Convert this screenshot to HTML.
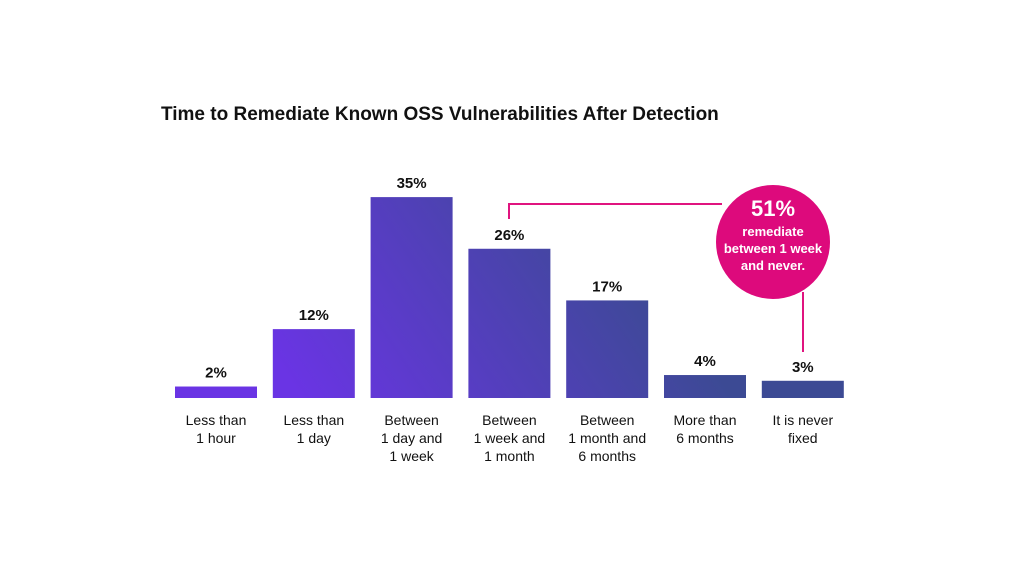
<!DOCTYPE html>
<html><head><meta charset="utf-8"><style>
html,body{margin:0;padding:0;background:#fff;}
svg text{font-family:"Liberation Sans",sans-serif;}
</style></head><body>
<svg id="chart" width="1024" height="576" viewBox="0 0 1024 576">
<defs>
<linearGradient id="barGrad" gradientUnits="userSpaceOnUse" x1="300" y1="398" x2="600" y2="197">
<stop offset="0" stop-color="#6a34e4"/><stop offset="1" stop-color="#3c4a94"/>
</linearGradient>
</defs>
<text x="161" y="120" font-size="19" font-weight="bold" fill="#111">Time to Remediate Known OSS Vulnerabilities After Detection</text>
<g id="bars"></g>
<path d="M509 219 V204 H722" fill="none" stroke="#e0147f" stroke-width="2"/>
<path d="M803 292 V352" fill="none" stroke="#e0147f" stroke-width="2"/>
<circle cx="773" cy="242" r="57" fill="#dd0a7c"/>
<text x="773" y="216" text-anchor="middle" font-size="22" font-weight="bold" fill="#fff">51%</text>
<text x="773" y="236" text-anchor="middle" font-size="13" font-weight="bold" fill="#fff">remediate</text>
<text x="773" y="253" text-anchor="middle" font-size="13" font-weight="bold" fill="#fff">between 1 week</text>
<text x="773" y="270" text-anchor="middle" font-size="13" font-weight="bold" fill="#fff">and never.</text>
</svg>
<script>
const categories = [["Less than","1 hour"],["Less than","1 day"],["Between","1 day and","1 week"],["Between","1 week and","1 month"],["Between","1 month and","6 months"],["More than","6 months"],["It is never","fixed"]];
const values = [2,12,35,26,17,4,3];
const valueLabels = ["2%","12%","35%","26%","17%","4%","3%"];
const NS="http://www.w3.org/2000/svg";
const g=document.getElementById('bars');
const baseY=398, pxPer=5.74, x0=175, step=97.8, bw=82;
function xPos(i){return x0+i*step;}
function yPos(v){return baseY-v*pxPer;}
values.forEach((v,i)=>{
  const r=document.createElementNS(NS,'rect');
  r.setAttribute('x',xPos(i));r.setAttribute('y',yPos(v));
  r.setAttribute('width',bw);r.setAttribute('height',baseY-yPos(v));
  r.setAttribute('fill','url(#barGrad)');
  
  
  g.appendChild(r);
  const t=document.createElementNS(NS,'text');
  t.setAttribute('x',xPos(i)+bw/2);t.setAttribute('y',yPos(v)-9);
  t.setAttribute('text-anchor','middle');t.setAttribute('font-size','15');t.setAttribute('font-weight','bold');t.setAttribute('fill','#111');
  t.textContent=valueLabels[i];
  
  
  g.appendChild(t);
  categories[i].forEach((line,j)=>{
    const c=document.createElementNS(NS,'text');
    c.setAttribute('x',xPos(i)+bw/2);c.setAttribute('y',425+j*18);
    c.setAttribute('text-anchor','middle');c.setAttribute('font-size','14');c.setAttribute('fill','#111');
    c.textContent=line;
    
    
    g.appendChild(c);
  });
});
</script>
</body></html>
